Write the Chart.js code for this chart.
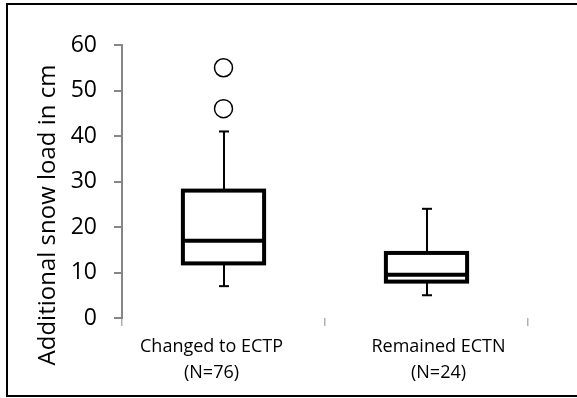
<!DOCTYPE html>
<html><head><meta charset="utf-8">
<script src="https://cdn.jsdelivr.net/npm/chart.js@4.4.1/dist/chart.umd.min.js"></script>
<style>html,body{margin:0;padding:0;background:#fff}#wrap{width:577px;height:398px;position:relative}</style>
</head><body><div id="wrap"><canvas id="c" width="577" height="398"></canvas></div>
<script>
const categories = [['Changed to ECTP', '(N=76)'], ['Remained ECTN', '(N=24)']];
const whiskerLow = [7, 5];
const q1 = [12, 8];
const median = [17, 9.5];
const q3 = [28, 14.3];
const whiskerHigh = [41, 24];
const outliers = [[55, 46], []];
const yMin = 0, yMax = 60, yStep = 10;
const yTitle = 'Additional snow load in cm';

const FONT = "'Open Sans', sans-serif";
const LABEL_NUDGE = [-12, 12];   // style: horizontal offset of category label blocks

const maxOut = Math.max(...outliers.map(o => o.length));
const outlierSets = [];
for (let k = 0; k < maxOut; k++) {
  outlierSets.push({
    type: 'line', showLine: false,
    data: outliers.map(o => (o[k] !== undefined ? o[k] : null)),
    pointRadius: 9, pointHoverRadius: 9, pointBorderWidth: 1.5,
    pointBackgroundColor: '#fff', pointBorderColor: '#000', order: 0
  });
}

const boxPlugin = {
  id: 'boxPlugin',
  beforeDraw(chart) {
    const ctx = chart.ctx;
    ctx.save();
    ctx.strokeStyle = '#000'; ctx.lineWidth = 2;
    ctx.strokeRect(7, 4, 620, 392);
    ctx.fillStyle = '#000';
    ctx.font = "24px " + FONT;
    ctx.textAlign = 'center'; ctx.textBaseline = 'middle';
    ctx.translate(48, 215);
    ctx.rotate(-Math.PI / 2);
    ctx.fillText(yTitle, 0, 0);
    ctx.restore();
  },
  beforeDatasetsDraw(chart) {
    const ctx = chart.ctx, xs = chart.scales.x, ys = chart.scales.y;
    ctx.save();
    ctx.strokeStyle = '#000'; ctx.lineWidth = 2;
    categories.forEach((c, i) => {
      const x = Math.round(xs.getPixelForValue(i));
      const cap = 5;
      const seg = (a, b) => {
        const ya = ys.getPixelForValue(a), yb = ys.getPixelForValue(b);
        ctx.beginPath(); ctx.moveTo(x, ya); ctx.lineTo(x, yb); ctx.stroke();
        ctx.beginPath(); ctx.moveTo(x - cap, yb); ctx.lineTo(x + cap, yb); ctx.stroke();
      };
      seg(q3[i], whiskerHigh[i]);
      seg(q1[i], whiskerLow[i]);
    });
    ctx.restore();
  },
  afterDatasetDraw(chart, args) {
    if (args.index !== 0) return;
    const ctx = chart.ctx, xs = chart.scales.x, ys = chart.scales.y;
    const meta = chart.getDatasetMeta(0);
    ctx.save();
    ctx.strokeStyle = '#000'; ctx.lineWidth = 4; ctx.lineJoin = 'miter';
    categories.forEach((c, i) => {
      const bar = meta.data[i];
      const x = xs.getPixelForValue(i), w = bar.width;
      const yTop = ys.getPixelForValue(q3[i]), yBot = ys.getPixelForValue(q1[i]);
      ctx.strokeRect(x - w / 2, yTop, w, yBot - yTop);
      const y = ys.getPixelForValue(median[i]);
      ctx.beginPath(); ctx.moveTo(x - w / 2, y); ctx.lineTo(x + w / 2, y); ctx.stroke();
    });
    ctx.restore();
  },
  afterDraw(chart) {
    const ctx = chart.ctx, xs = chart.scales.x;
    ctx.save();
    ctx.fillStyle = '#000';
    ctx.font = "18px " + FONT;
    ctx.textAlign = 'center'; ctx.textBaseline = 'middle';
    categories.forEach((lines, i) => {
      const x = xs.getPixelForValue(i) + LABEL_NUDGE[i];
      lines.forEach((t, j) => ctx.fillText(t, x, chart.chartArea.bottom + 29 + j * 26));
    });
    ctx.restore();
  }
};

new Chart(document.getElementById('c'), {
  type: 'bar',
  data: {
    labels: categories,
    datasets: [{
      data: categories.map((c, i) => [q1[i], q3[i]]),
      backgroundColor: '#fff', borderWidth: 0,
      barPercentage: 0.40, categoryPercentage: 1, order: 1
    }, ...outlierSets]
  },
  options: {
    responsive: false, animation: false, devicePixelRatio: 1,
    layout: { padding: { top: 45, right: 49, bottom: 0, left: 0 } },
    plugins: { legend: { display: false }, tooltip: { enabled: false } },
    scales: {
      x: {
        grid: { offset: true, drawOnChartArea: false, drawTicks: true, tickLength: 8, color: '#b0b0b0', lineWidth: 1.5 },
        border: { display: false },
        ticks: { display: false },
        afterFit(s) { s.height = 80; }
      },
      y: {
        min: yMin, max: yMax,
        ticks: { stepSize: yStep, color: '#000', font: { family: FONT, size: 23 }, padding: 17 },
        grid: { drawOnChartArea: false, drawTicks: true, tickLength: 8, color: '#868686', lineWidth: 2 },
        border: { display: true, color: '#868686', width: 2 },
        title: { display: false },
        afterFit(s) { s.width = 122; }
      }
    }
  },
  plugins: [boxPlugin]
});
</script></body></html>
